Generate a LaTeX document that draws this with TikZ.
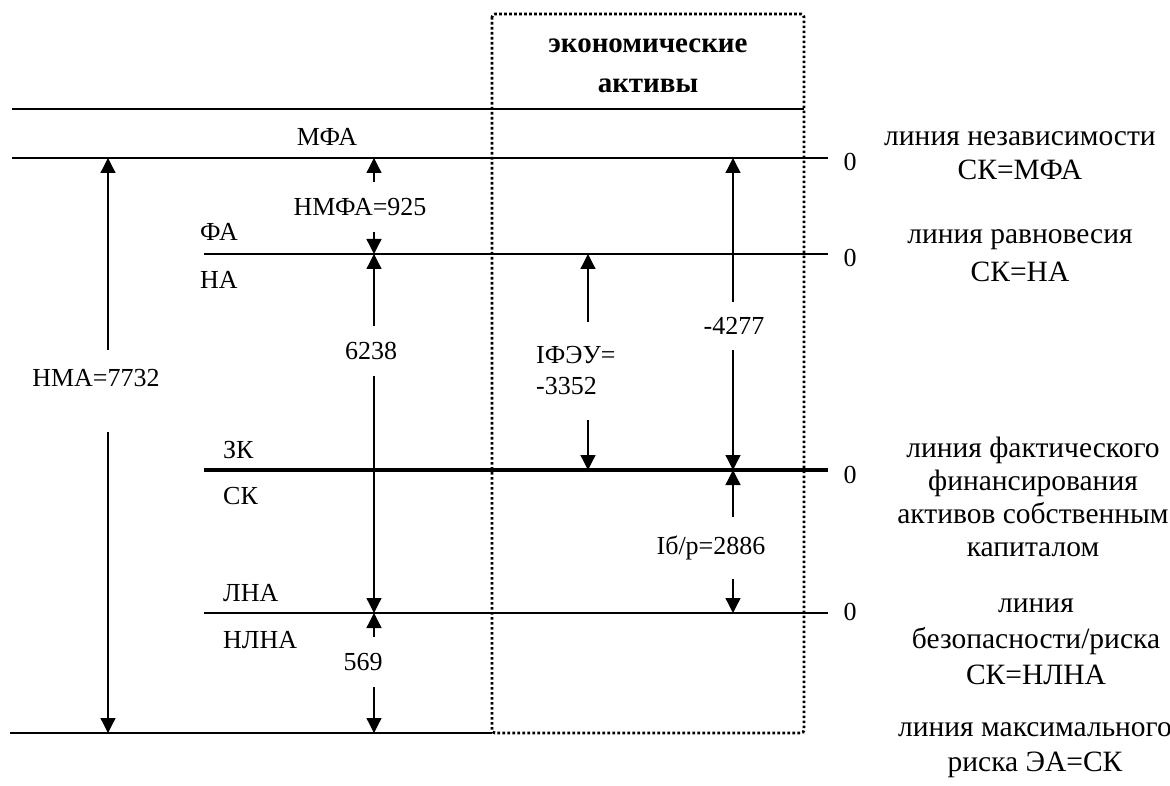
\documentclass[tikz,border=0pt]{standalone}
\usepackage{fontspec}
\setmainfont{Liberation Serif}
\usetikzlibrary{arrows.meta}

\tikzset{
  lvl/.style={line width=1.5pt},
  lvlthick/.style={line width=4.6pt},
  arr/.style={line width=1.3pt, -{Triangle[width=15pt,length=15pt]}},
  lbl/.style={inner sep=0pt, font=\fontsize{26}{31}\selectfont},
  gapbox/.style={lbl, minimum height=#1},
  zero/.style={lbl},
  note/.style={inner sep=0pt, align=center, font=\fontsize{29.5}{#1}\selectfont},
  note/.default=34,
}

\begin{document}
\begin{tikzpicture}[x=1pt,y=-1pt]
\useasboundingbox (0,0) rectangle (1170,786);

% level lines
\coordinate (top-l) at (12,109);  \coordinate (top-r) at (804,109);
\coordinate (mfa-l) at (12,158);  \coordinate (mfa-r) at (828,158);
\coordinate (fa-l) at (204,254);  \coordinate (fa-r) at (828,254);
\coordinate (zk-l) at (204,470);  \coordinate (zk-r) at (828,470);
\coordinate (lna-l) at (204,613); \coordinate (lna-r) at (828,613);
\coordinate (bot-l) at (10,733);  \coordinate (bot-r) at (492,733);

\draw[lvl] (top-l) -- (top-r);
\draw[lvl] (mfa-l) -- (mfa-r);
\draw[lvl] (fa-l) -- (fa-r);
\draw[lvlthick] (zk-l) -- (zk-r);
\draw[lvl] (lna-l) -- (lna-r);
\draw[lvl] (bot-l) -- (bot-r);

% economic assets box
\draw[line width=2.8pt, dash pattern=on 2.6pt off 2.4pt, rounded corners=3pt]
  (492,14) rectangle (804,733);
\node[inner sep=0pt, align=center, font=\fontsize{29}{40}\selectfont\bfseries] (ea) at (648,66)
  {экономические\\активы};

% names of the levels
\node[lbl] (mfa) at (327,137) {МФА};
\node[lbl, anchor=west] (fa) at (200,232) {ФА};
\node[lbl, anchor=west] (na) at (200,280) {НА};
\node[lbl, anchor=west] (zk) at (223,450) {ЗК};
\node[lbl, anchor=west] (sk) at (223,496) {СК};
\node[lbl, anchor=west] (lna) at (223,593) {ЛНА};
\node[lbl, anchor=west] (nlna) at (223,640) {НЛНА};

% zeros
\node[zero] (z1) at (850,162) {0};
\node[zero] (z2) at (850,258) {0};
\node[zero] (z3) at (850,475) {0};
\node[zero] (z4) at (850,612) {0};

% line names
\node[note] (n1) at (1020,156) {линия независимости\\СК=МФА};
\node[note=38] (n2) at (1020,256) {линия равновесия\\СК=НА};
\node[note=33] (n3) at (1033,497) {линия фактического\\финансирования\\активов собственным\\капиталом};
\node[note=36] (n4) at (1036,642) {линия\\безопасности/риска\\СК=НЛНА};
\node[note=35] (n5) at (1035,750) {линия максимального\\риска ЭА=СК};

% arrow ends
\coordinate (nma-t) at (108,158);  \coordinate (nma-b) at (108,733);
\coordinate (nmfa-t) at (374,158); \coordinate (nmfa-b) at (374,254);
\coordinate (na-t) at (374,254);   \coordinate (na-b) at (374,613);
\coordinate (nlna-t) at (374,613); \coordinate (nlna-b) at (374,733);
\coordinate (ifeu-t) at (588,254); \coordinate (ifeu-b) at (588,470);
\coordinate (sk-t) at (733,158);   \coordinate (sk-b) at (733,470);
\coordinate (ibr-t) at (733,470);  \coordinate (ibr-b) at (733,613);

% values
\node[lbl, text height=36pt, text depth=46pt, anchor=base] (l7732) at (96,386) {НМА=7732};
\node[gapbox=50pt] (l925) at (360,207) {НМФА=925};
\node[gapbox=49pt] (l6238) at (371,351) {6238};
\node[gapbox=50pt] (l569) at (363,662) {569};
\node[gapbox=98pt, align=left, anchor=west] (l3352) at (536,371) {IФЭУ=\\-3352};
\node[gapbox=48pt] (l4277) at (734,326) {-4277};
\node[gapbox=62pt] (l2886) at (711,548) {Iб/р=2886};

\draw[arr] (l7732.north -| nma-t) -- (nma-t);
\draw[arr] (l7732.south -| nma-b) -- (nma-b);
\draw[arr] (l925.north -| nmfa-t) -- (nmfa-t);
\draw[arr] (l925.south -| nmfa-b) -- (nmfa-b);
\draw[arr] (l6238.north -| na-t) -- (na-t);
\draw[arr] (l6238.south -| na-b) -- (na-b);
\draw[arr] (l569.north -| nlna-t) -- (nlna-t);
\draw[arr] (l569.south -| nlna-b) -- (nlna-b);
\draw[arr] (l3352.north -| ifeu-t) -- (ifeu-t);
\draw[arr] (l3352.south -| ifeu-b) -- (ifeu-b);
\draw[arr] (l4277.north -| sk-t) -- (sk-t);
\draw[arr] (l4277.south -| sk-b) -- (sk-b);
\draw[arr] (l2886.north -| ibr-t) -- (ibr-t);
\draw[arr] (l2886.south -| ibr-b) -- (ibr-b);
\end{tikzpicture}
\end{document}
